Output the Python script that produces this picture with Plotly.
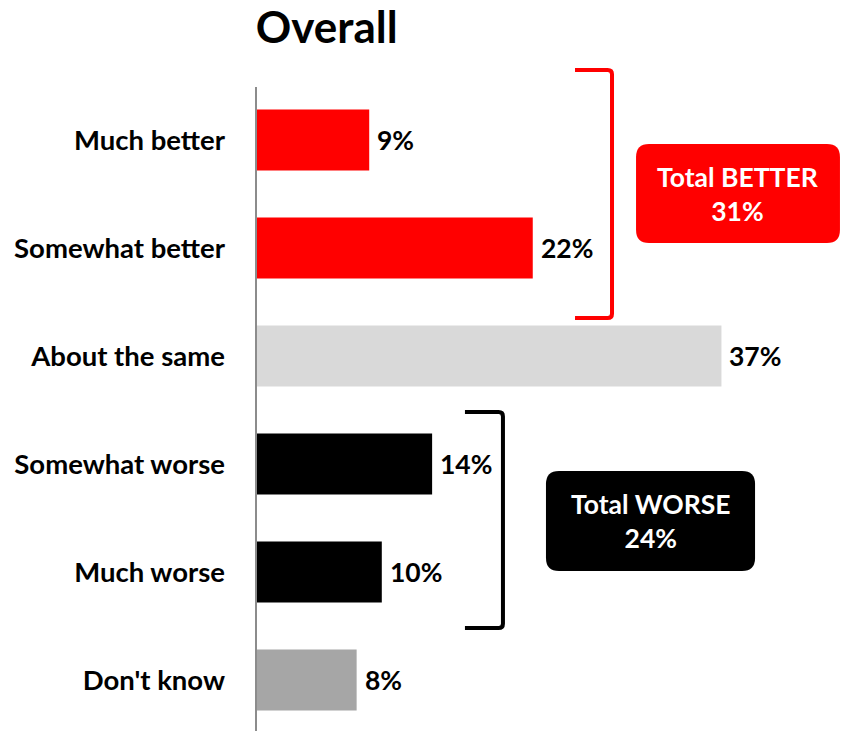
import plotly.graph_objects as go

categories = ["Much better", "Somewhat better", "About the same", "Somewhat worse", "Much worse", "Don't know"]
values = [9, 22, 37, 14, 10, 8]
bar_colors = ["#FF0000", "#FF0000", "#D9D9D9", "#000000", "#000000", "#A6A6A6"]
title_text = "Overall"
better_idx = [0, 1]
worse_idx = [3, 4]

FONT = "Lato"
ypos = list(range(len(categories)))
PX = 12.58  # pixels per percentage point

fig = go.Figure()
fig.add_trace(go.Bar(
    x=values, y=ypos, orientation="h",
    marker=dict(color=bar_colors, line=dict(width=0)),
    width=0.565, hoverinfo="skip",
))

# value labels
for v, y in zip(values, ypos):
    fig.add_annotation(x=v, y=y, xref="x", yref="y", text=f"{v}%", showarrow=False,
                       xanchor="left", yanchor="middle", xshift=6,
                       font=dict(family=FONT, size=26.5, color="#000000", weight="bold"))

def rounded_rect(x0, x1, y0, y1, rx, ry):
    return (f"M {x0+rx},{y0} L {x1-rx},{y0} Q {x1},{y0} {x1},{y0+ry} "
            f"L {x1},{y1-ry} Q {x1},{y1} {x1-rx},{y1} L {x0+rx},{y1} "
            f"Q {x0},{y1} {x0},{y1-ry} L {x0},{y0+ry} Q {x0},{y0} {x0+rx},{y0} Z")

def bracket(x0, x1, y0, y1, rx, ry):
    return (f"M {x0},{y0} L {x1-rx},{y0} Q {x1},{y0} {x1},{y0+ry} "
            f"L {x1},{y1-ry} Q {x1},{y1} {x1-rx},{y1} L {x0},{y1}")

rx = 13 / PX
ry = 13 / 108.0

# brackets
fig.add_shape(type="path", xref="x", yref="y",
              path=bracket(25.36, 28.30, -0.648, 1.648, 0.35, 0.04),
              line=dict(color="#FF0000", width=4))
fig.add_shape(type="path", xref="x", yref="y",
              path=bracket(16.61, 19.63, 2.519, 4.519, 0.35, 0.04),
              line=dict(color="#000000", width=4))

# boxes
fig.add_shape(type="path", xref="x", yref="y",
              path=rounded_rect(30.21, 46.42, 0.037, 0.954, rx, ry),
              fillcolor="#FF0000", line=dict(width=0))
fig.add_shape(type="path", xref="x", yref="y",
              path=rounded_rect(23.05, 39.67, 3.065, 3.991, rx, ry),
              fillcolor="#000000", line=dict(width=0))

better_total = sum(values[i] for i in better_idx)
worse_total = sum(values[i] for i in worse_idx)
fig.add_annotation(x=(30.21 + 46.42) / 2, y=(0.037 + 0.954) / 2, xref="x", yref="y",
                   text=f"Total BETTER<br>{better_total}%", showarrow=False,
                   font=dict(family=FONT, size=26.5, color="#FFFFFF", weight="bold"))
fig.add_annotation(x=(23.05 + 39.67) / 2, y=(3.065 + 3.991) / 2, xref="x", yref="y",
                   text=f"Total WORSE<br>{worse_total}%", showarrow=False,
                   font=dict(family=FONT, size=26.5, color="#FFFFFF", weight="bold"))

# y axis line
fig.add_shape(type="line", xref="x", yref="y", x0=0, x1=0, y0=-0.491, y1=5.472,
              line=dict(color="#8C8C8C", width=2))

fig.update_layout(
    width=844, height=731,
    margin=dict(l=254, r=0, t=60, b=0),
    plot_bgcolor="#FFFFFF", paper_bgcolor="#FFFFFF",
    showlegend=False,
    hovermode=False,
    title=dict(text=title_text, xref="paper", x=0.003, xanchor="left",
               yref="container", y=1 - 28 / 731, yanchor="middle",
               font=dict(family=FONT, size=44, color="#000000", weight="bold")),
    xaxis=dict(range=[-2 / PX, 588 / PX], visible=False, fixedrange=True),
    yaxis=dict(range=[5.472, -0.741], tickvals=ypos, ticktext=categories,
               showgrid=False, zeroline=False, showline=False, ticks="",
               ticklabelstandoff=28, fixedrange=True,
               tickfont=dict(family=FONT, size=27.5, color="#000000", weight="bold")),
)

fig.write_html("out.html", config={"displayModeBar": False, "staticPlot": True})

with open("out.html", "r", encoding="utf-8") as f:
    html = f.read()
html = html.replace("<body>", '<body style="margin:0;padding:0;overflow:hidden">', 1)
html = html.replace("<head>", '<head><style>html,body{margin:0;padding:0;}</style>', 1)
with open("out.html", "w", encoding="utf-8") as f:
    f.write(html)
